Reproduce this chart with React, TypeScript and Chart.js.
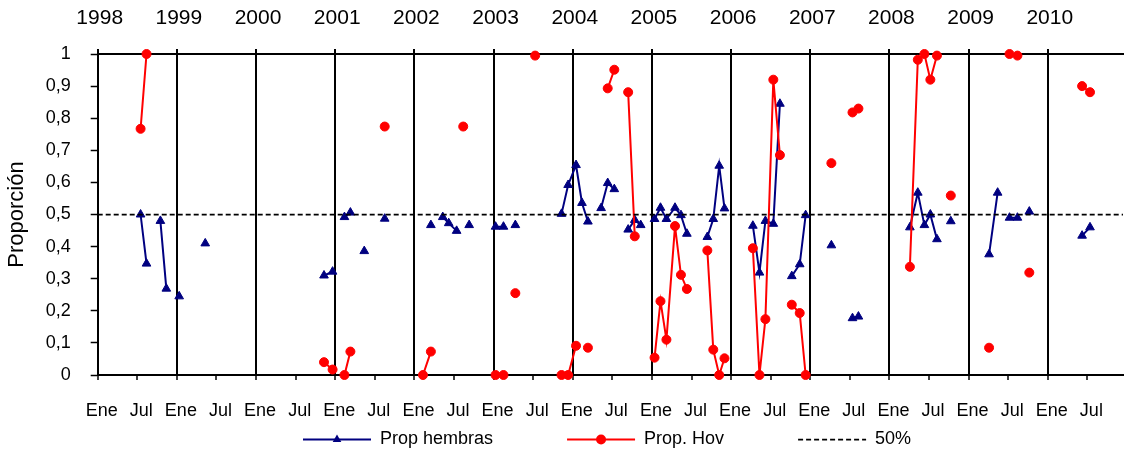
import React, { useEffect, useRef } from 'react';
import { Chart, registerables } from 'chart.js';

Chart.register(...registerables);

// ---- Data (months counted from January 1998) ----
const anios = ['1998', '1999', '2000', '2001', '2002', '2003', '2004', '2005', '2006', '2007', '2008', '2009', '2010'];
const etiquetasMes = ['Ene', 'Jul'];
const etiquetasY = ['0', '0,1', '0,2', '0,3', '0,4', '0,5', '0,6', '0,7', '0,8', '0,9', '1'];

const fechas = [
  6.5, 7.4, 8, 9.5, 10.4, 11, 12.35, 13, 16.3, 17,
  34.3, 35.6, 36, 37.4, 38.3, 39, 40.4, 41, 43.5, 44,
  49.3, 50.5, 51, 52.3, 53.2, 54.4, 55.4, 56.3, 57, 60.3,
  61.5, 62, 63.3, 64, 66.3, 67, 70.3, 71.3, 72.5, 73.4,
  74.3, 75, 76.3, 77.3, 78.3, 79, 80.4, 81.4, 82.3, 83,
  84.4, 85.3, 86.2, 87.5, 88.4, 89.3, 90, 92.4, 93.3, 94.2,
  95.0, 96, 99.3, 100.3, 101.2, 102.4, 103.4, 104, 105.2, 106.4,
  107.3, 108, 111.2, 112, 114.4, 115.3, 116, 123.1, 124.3, 125.3,
  126.2, 127.2, 128, 129.3, 130, 135.1, 136.4, 137, 138.2, 139.4,
  140, 141.2, 142, 149.2, 150.4,
];

const propHembras = [
  0.500, 0.347, null, 0.480, 0.269, null, 0.245, null, 0.410, null,
  0.310, 0.322, null, 0.492, 0.506, null, 0.386, null, 0.487, null,
  null, 0.467, null, 0.492, 0.473, 0.449, null, 0.467, null, 0.462,
  0.462, null, 0.467, null, null, null, 0.502, 0.592, 0.654, 0.536,
  0.478, null, 0.520, 0.598, 0.579, null, 0.453, 0.483, 0.467, null,
  0.486, 0.521, 0.486, 0.521, 0.498, 0.440, null, 0.430, 0.486, 0.652,
  0.519, null, 0.465, 0.319, 0.480, 0.471, 0.845, null, 0.308, 0.345,
  0.498, null, 0.404, null, 0.177, 0.182, null, 0.460, 0.568, 0.467,
  0.500, 0.423, null, 0.479, null, 0.376, 0.568, null, 0.490, 0.490,
  null, 0.509, null, 0.434, 0.460,
];

const propHov = [
  0.767, 1.000, null, null, null, null, null, null, null, null,
  0.040, 0.017, null, 0.000, 0.073, null, null, null, 0.774, null,
  0.000, 0.073, null, null, null, null, 0.774, null, null, 0.000,
  0.000, null, 0.255, null, 0.995, null, 0.000, 0.000, 0.091, null,
  0.085, null, null, 0.893, 0.951, null, 0.881, 0.432, null, null,
  0.054, 0.230, 0.110, 0.464, 0.312, 0.268, null, 0.388, 0.079, 0.000,
  0.052, null, 0.395, 0.000, 0.174, 0.920, 0.685, null, 0.219, 0.193,
  0.000, null, 0.660, null, 0.818, 0.830, null, 0.337, 0.982, 1.000,
  0.920, 0.995, null, 0.559, null, 0.085, null, null, 1.000, 0.995,
  null, 0.319, null, 0.900, 0.881,
];

const NIVEL_50 = 0.5;
const X_MIN = 0;
const X_MAX = 155.4;

const FUENTE = "'Liberation Sans', Arial, Helvetica, sans-serif";
const AZUL = '#000080';
const ROJO = '#FF0000';

const ticksMes = anios.flatMap((_, i) => [i * 12, i * 12 + 6]);
const etiquetasX = anios.flatMap(() => etiquetasMes);
const ticksAnio = anios.map((_, i) => i * 12);

const puntos = (vals: (number | null)[]) => fechas.map((f, i) => ({ x: f, y: vals[i] }));

const leyendaPlugin = {
  id: 'leyendaManual',
  afterDraw(chart: any) {
    const ctx = chart.ctx as CanvasRenderingContext2D;
    const y = 439.5;
    let x = 303;
    const largo = 68;
    ctx.save();
    ctx.font = `18px ${FUENTE}`;
    ctx.textBaseline = 'middle';
    ctx.textAlign = 'left';
    chart.data.datasets.forEach((ds: any) => {
      ctx.save();
      ctx.strokeStyle = ds.borderColor;
      ctx.lineWidth = ds.borderWidth;
      ctx.setLineDash(ds.borderDash || []);
      ctx.beginPath();
      ctx.moveTo(x, y);
      ctx.lineTo(x + largo, y);
      ctx.stroke();
      ctx.setLineDash([]);
      const cx = x + largo / 2;
      ctx.fillStyle = ds.borderColor;
      if (ds.pointStyle === 'triangle') {
        const r = 5;
        ctx.beginPath();
        ctx.moveTo(cx, y - r);
        ctx.lineTo(cx + r * 0.866, y + r / 2);
        ctx.lineTo(cx - r * 0.866, y + r / 2);
        ctx.closePath();
        ctx.fill();
      } else if (ds.pointStyle === 'circle') {
        ctx.beginPath();
        ctx.arc(cx, y, 5, 0, Math.PI * 2);
        ctx.fill();
      }
      ctx.restore();
      ctx.fillStyle = '#000';
      ctx.fillText(ds.label, x + largo + 9, y);
      x += largo + 9 + ctx.measureText(ds.label).width + 74;
    });
    ctx.restore();
  },
};

export default function App() {
  const ref = useRef<HTMLCanvasElement>(null);

  useEffect(() => {
    const canvas = ref.current;
    if (!canvas) return;
    Chart.defaults.font.family = FUENTE;
    Chart.defaults.color = '#000';

    const chart = new Chart(canvas, {
      type: 'line',
      data: {
        datasets: [
          {
            label: 'Prop hembras',
            data: puntos(propHembras),
            borderColor: AZUL,
            backgroundColor: AZUL,
            borderWidth: 2,
            pointStyle: 'triangle',
            pointRadius: 5,
            pointBorderWidth: 1,
            pointBackgroundColor: AZUL,
            pointBorderColor: AZUL,
            spanGaps: false,
            tension: 0,
            clip: false,
            order: 2,
          } as any,
          {
            label: 'Prop. Hov',
            data: puntos(propHov),
            borderColor: ROJO,
            backgroundColor: ROJO,
            borderWidth: 2,
            pointStyle: 'circle',
            pointRadius: 4.5,
            pointBorderWidth: 1,
            pointBackgroundColor: ROJO,
            pointBorderColor: ROJO,
            spanGaps: false,
            tension: 0,
            clip: false,
            order: 1,
          } as any,
          {
            label: '50%',
            data: [
              { x: X_MIN, y: NIVEL_50 },
              { x: X_MAX, y: NIVEL_50 },
            ],
            borderColor: '#000',
            backgroundColor: '#000',
            borderWidth: 1.75,
            borderDash: [5, 3],
            pointRadius: 0,
            tension: 0,
            order: 0,
          } as any,
        ],
      },
      options: {
        responsive: false,
        animation: false,
        devicePixelRatio: 1,
        layout: { padding: 0 },
        plugins: {
          legend: { display: false },
          tooltip: { enabled: false },
        },
        scales: {
          x: {
            type: 'linear',
            position: 'bottom',
            min: X_MIN,
            max: X_MAX,
            afterBuildTicks: (s: any) => {
              s.ticks = ticksMes.map((v) => ({ value: v }));
            },
            afterFit: (s: any) => {
              s.height = 78;
            },
            ticks: {
              callback: (_v: any, i: number) => etiquetasX[i],
              labelOffset: 4,
              padding: 20,
              font: { size: 18 },
              color: '#000',
              maxRotation: 0,
              autoSkip: false,
            },
            grid: {
              color: (c: any) => (c.tick && c.tick.value % 12 === 0 ? '#000' : 'rgba(0,0,0,0)'),
              lineWidth: 2,
              drawTicks: true,
              tickLength: 5,
              tickColor: '#000',
              tickWidth: 1.5,
            },
            border: { display: true, color: '#000', width: 2 },
          },
          x2: {
            type: 'linear',
            position: 'top',
            min: X_MIN,
            max: X_MAX,
            afterBuildTicks: (s: any) => {
              s.ticks = ticksAnio.map((v) => ({ value: v }));
            },
            afterFit: (s: any) => {
              s.height = 54;
            },
            ticks: {
              callback: (_v: any, i: number) => anios[i],
              labelOffset: 2,
              padding: 18,
              font: { size: 21 },
              color: '#000',
              maxRotation: 0,
              autoSkip: false,
            },
            grid: {
              drawOnChartArea: false,
              drawTicks: true,
              tickLength: 5,
              tickColor: '#000',
              tickWidth: 2,
              lineWidth: 2,
              color: '#000',
            },
            border: { display: true, color: '#000', width: 2 },
          },
          y: {
            type: 'linear',
            min: 0,
            max: 1,
            afterFit: (s: any) => {
              s.width = 97.7;
            },
            ticks: {
              stepSize: 0.1,
              callback: (_v: any, i: number) => etiquetasY[i],
              padding: 20,
              font: { size: 18 },
              color: '#000',
            },
            grid: {
              drawOnChartArea: false,
              drawTicks: true,
              tickLength: 7,
              tickColor: '#000',
              tickWidth: 1.5,
            },
            border: { display: true, color: '#000', width: 2 },
            title: {
              display: true,
              text: 'Proporción',
              font: { size: 22 },
              color: '#000',
              padding: { top: 4, bottom: 0 },
            },
          },
        },
      } as any,
      plugins: [leyendaPlugin],
    });

    return () => chart.destroy();
  }, []);

  return (
    <div style={{ position: 'fixed', left: 0, top: 0, width: 1129, height: 453, background: '#fff', overflow: 'hidden' }}>
      <canvas ref={ref} width={1129} height={453} style={{ display: 'block', width: 1129, height: 453 }} />
    </div>
  );
}
